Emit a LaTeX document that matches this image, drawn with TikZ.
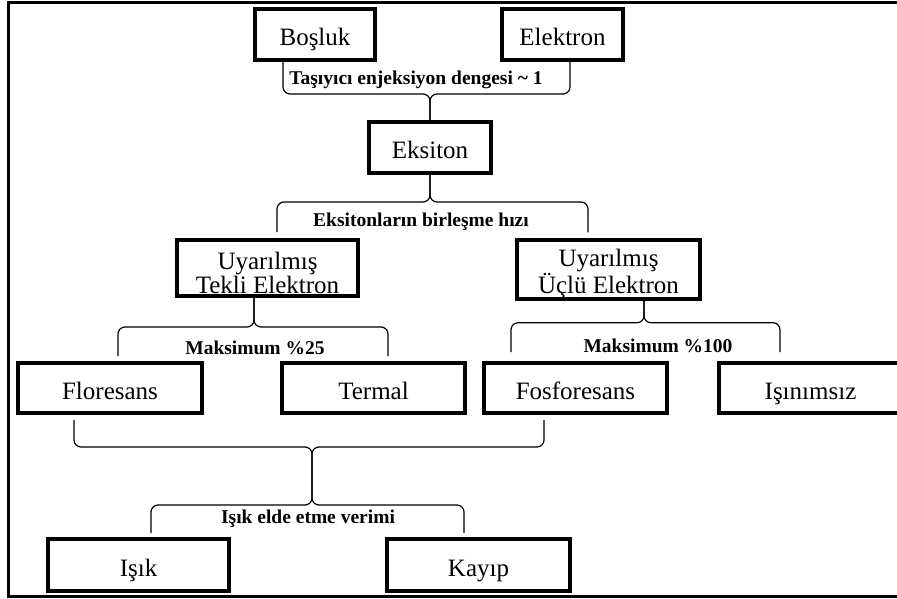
\documentclass[tikz,border=0pt]{standalone}
\usepackage{fontspec}
\setmainfont{Liberation Serif}
\usetikzlibrary{positioning, calc}

\newcommand{\topstrut}{\rule{0pt}{26.5pt}}

\tikzset{
  stage/.style={draw, line width=4pt, inner sep=0pt,
    text height=24pt, text depth=2pt,
    font=\fontsize{25}{26}\selectfont},
  stagetwo/.style={draw, line width=4pt, inner sep=0pt, align=center,
    font=\fontsize{25}{22}\selectfont},
  brc/.style={line width=1.2pt, rounded corners=7pt},
  lbl/.style={font=\bfseries\fontsize{19.5}{21}\selectfont, inner sep=0pt}
}

\begin{document}
\begin{tikzpicture}[x=1pt, y=-1pt]
  \useasboundingbox (0,0) rectangle (897,599);
  \draw[line width=3pt] (905,3) -- (8,3) -- (8,596) -- (905,596);

  % boxes
  \node[stage, minimum width=120, minimum height=51] (bos) at (315,34.5) {Boşluk};
  \node[stage, minimum width=121, minimum height=51] (ele) at (562.5,34.5) {Elektron};
  \node[stage, minimum width=122, minimum height=51] (eks) at (430,147.5) {Eksiton};
  \node[stagetwo, minimum width=181, minimum height=56] (tek) at (267.5,268) {\topstrut Uyarılmış\\Tekli Elektron};
  \node[stagetwo, minimum width=183, minimum height=57] (ucl) at (608.5,269.5) {\topstrut Uyarılmış\\Üçlü Elektron};
  \node[stage, minimum width=184, minimum height=50] (flo) at (110,388) {Floresans};
  \node[stage, minimum width=183, minimum height=50] (ter) at (373.5,388) {Termal};
  \node[stage, minimum width=183, minimum height=50] (fos) at (575.5,388) {Fosforesans};
  \node[stage, minimum width=183, minimum height=50] (isn) at (810.5,388) {Işınımsız};
  \node[stage, minimum width=181, minimum height=52] (isk) at (138.5,565) {Işık};
  \node[stage, minimum width=183, minimum height=52] (kay) at (478.5,565) {Kayıp};

  % labels
  \node[lbl] (l1) at (416,80) {Taşıyıcı enjeksiyon dengesi \textasciitilde{} 1};
  \node[lbl] (l2) at (421,222) {Eksitonların birleşme hızı};
  \node[lbl] (l3) at (255,348) {Maksimum \%25};
  \node[lbl] (l4) at (658,346) {Maksimum \%100};
  \node[lbl] (l5) at (308,519) {Işık elde etme verimi};

  % braces
  \draw[brc] ([xshift=-32pt]bos.south) -- ++(0,32) -| (eks.north);
  \draw[brc] ([xshift=7.5pt]ele.south) -- ++(0,32) -| (eks.north);

  \draw[brc] (eks.south) -- ++(0,27) -| ([shift={(9.5,-6)}]tek.north);
  \draw[brc] (eks.south) -- ++(0,27) -| ([shift={(-20.5,-6)}]ucl.north);

  \draw[brc] ([xshift=-13.5pt]tek.south) -- ++(0,29) -| ([shift={(8,-5)}]flo.north);
  \draw[brc] ([xshift=-13.5pt]tek.south) -- ++(0,29) -| ([shift={(14.5,-5)}]ter.north);

  \draw[brc] ([xshift=35.5pt]ucl.south) -- ++(0,22) -| ([shift={(-64.5,-9)}]fos.north);
  \draw[brc] ([xshift=35.5pt]ucl.south) -- ++(0,22) -| ([shift={(-30.5,-9)}]isn.north);

  \coordinate (jn) at (312,505);
  \draw[brc] ([shift={(-36,5)}]flo.south) -- ++(0,27) -| (jn) -| ([shift={(12.5,-4)}]isk.north);
  \draw[brc] ([shift={(-31.5,5)}]fos.south) -- ++(0,27) -| (jn) -| ([shift={(-14.5,-4)}]kay.north);
\end{tikzpicture}
\end{document}
